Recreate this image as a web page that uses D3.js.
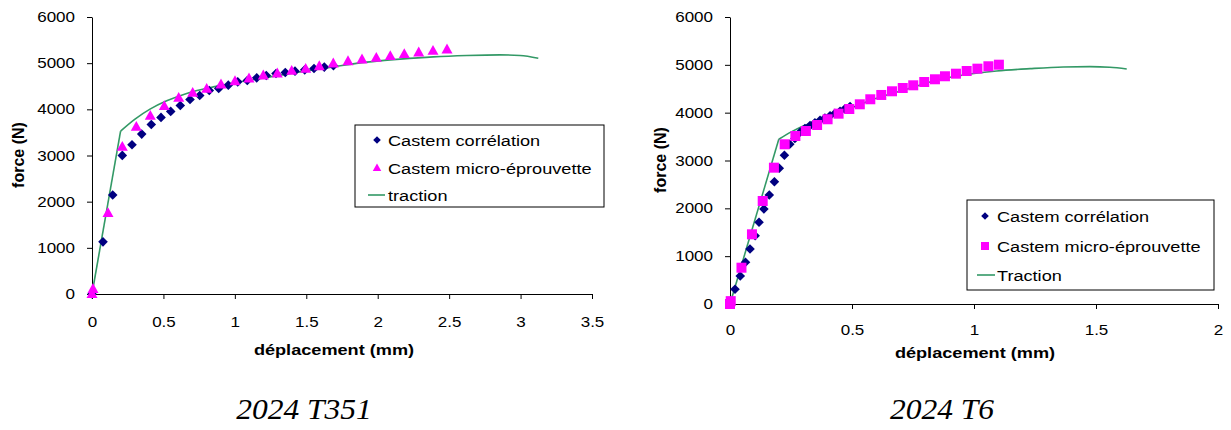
<!DOCTYPE html>
<html><head><meta charset="utf-8">
<script src="https://cdn.jsdelivr.net/npm/d3@7"></script>
<style>
body{margin:0;background:#fff;}
</style></head><body>
<svg id="c" width="1231" height="430"></svg>
<script>
// ---------- DATA ----------
const yTicks = [0,1000,2000,3000,4000,5000,6000];
const xTicksT351 = [0,0.5,1,1.5,2,2.5,3,3.5];
const xTicksT6 = [0,0.5,1,1.5,2];

const seriesNames = ["Castem corrélation","Castem micro-éprouvette"];
const lineNameT351 = "traction";
const lineNameT6 = "Traction";
const titles = ["2024 T351","2024 T6"];
const xLabel = "déplacement (mm)";
const yLabel = "force (N)";

// 2024 T351
const t351CorrX = [0,0.077,0.145,0.212,0.28,0.348,0.415,0.483,0.551,0.618,0.686,0.754,0.821,0.887,0.954,1.02,1.087,1.153,1.22,1.288,1.353,1.421,1.489,1.554,1.626,1.69];
const t351CorrF = [0,1130,2143,3002,3232,3463,3673,3825,3955,4084,4214,4301,4409,4452,4524,4595,4625,4682,4734,4777,4799,4827,4855,4885,4915,4945];
const t351MicroX = [0,0.007,0.112,0.212,0.31,0.408,0.506,0.607,0.705,0.803,0.903,1.001,1.099,1.199,1.297,1.398,1.496,1.591,1.689,1.792,1.89,1.99,2.088,2.186,2.287,2.387,2.485];
const t351MicroF = [0,108,1753,3188,3621,3859,4069,4249,4357,4444,4539,4610,4669,4734,4777,4833,4877,4935,4994,5043,5080,5115,5152,5195,5232,5266,5296];
const t351TracX = [0,0.2,0.301,0.406,0.523,0.663,0.849,1.036,1.223,1.456,1.689,1.923,2.156,2.389,2.623,2.856,2.996,3.124];
const t351TracF = [0,3528,3788,4004,4184,4344,4487,4595,4690,4812,4920,5022,5087,5137,5166,5180,5166,5108];

// 2024 T6
const t6CorrX = [0,0.0205,0.042,0.0635,0.082,0.103,0.119,0.139,0.161,0.182,0.202,0.223,0.245,0.266,0.287,0.307,0.328,0.348,0.369,0.389,0.41,0.43,0.451,0.471,0.492];
const t6CorrF = [0,307,585,872,1150,1428,1708,1986,2279,2557,2837,3109,3339,3460,3590,3670,3730,3790,3840,3890,3935,3985,4030,4080,4130];
const t6MicroX = [0,0.003,0.047,0.09,0.134,0.18,0.224,0.268,0.311,0.357,0.4,0.445,0.489,0.532,0.575,0.62,0.664,0.708,0.751,0.796,0.84,0.881,0.926,0.97,1.014,1.059,1.102];
const t6MicroF = [0,60,759,1457,2153,2850,3339,3512,3617,3742,3862,3979,4077,4175,4280,4370,4447,4516,4572,4641,4698,4761,4815,4871,4920,4970,5003];
const t6TracX = [0,0.2,0.253,0.3,0.382,0.478,0.587,0.724,0.861,0.956,1.093,1.23,1.366,1.475,1.557,1.626];
const t6TracF = [0,3443,3603,3721,3882,4056,4280,4489,4698,4788,4871,4920,4955,4962,4949,4913];

// ---------- DRAW ----------
const NAVY="#000080", MAG="#FF00FF", GREEN="#339966";
const SANS="Liberation Sans, Arial, sans-serif";
const SERIF="Liberation Serif, Times New Roman, serif";
const svg = d3.select("#c");
const zip=(a,b)=>a.map((v,i)=>[v,b[i]]);

function diamond(r){return `M0,${-r}L${r},0L0,${r}L${-r},0Z`;}
function triangle(w){const h=w*0.9;return `M0,${-h*0.6}L${w/2},${h*0.4}L${-w/2},${h*0.4}Z`;}
function square(s){return `M${-s/2},${-s/2}h${s}v${s}h${-s}Z`;}

function chart(cfg){
  const g = svg.append("g");
  const x = d3.scaleLinear().domain(cfg.xDom).range(cfg.xRange);
  const y = d3.scaleLinear().domain([0,6000]).range(cfg.yRange);

  const ya = g.append("g").attr("transform",`translate(${cfg.xRange[0]},0)`)
    .call(d3.axisLeft(y).tickValues(yTicks).tickSize(5).tickSizeOuter(0).tickPadding(12).tickFormat(d3.format("d")));
  const xa = g.append("g").attr("transform",`translate(0,${cfg.yRange[0]})`)
    .call(d3.axisBottom(x).tickValues(cfg.xTicks).tickSize(5).tickSizeOuter(0).tickPadding(cfg.xPad).tickFormat(d=>String(d)));
  [ya,xa].forEach(a=>{a.select(".domain").attr("stroke","#000");a.selectAll("line").attr("stroke","#000");
    a.selectAll("text").style("font-size","14.5px").style("font-family",SANS).attr("fill","#000").classed("sx",true);});

  // line: straight elastic segment, smooth plastic part
  const pts = zip(cfg.tracX,cfg.tracF);
  const lin = d3.line().x(d=>x(d[0])).y(d=>y(d[1]));
  g.append("path").datum(pts.slice(0,2)).attr("fill","none").attr("stroke",GREEN).attr("stroke-width",1.6).attr("d",lin);
  g.append("path").datum(pts.slice(1)).attr("fill","none").attr("stroke",GREEN).attr("stroke-width",1.6)
    .attr("d",lin.curve(d3.curveMonotoneX));

  // diamonds
  g.append("g").selectAll("path").data(zip(cfg.corrX,cfg.corrF)).join("path")
    .attr("d",diamond(4.8)).attr("fill",NAVY)
    .attr("transform",d=>`translate(${x(d[0])},${y(d[1])})`);
  // micro
  g.append("g").selectAll("path").data(zip(cfg.microX,cfg.microF)).join("path")
    .attr("d",cfg.microShape==="tri"?triangle(11):square(10)).attr("fill",MAG)
    .attr("transform",d=>`translate(${x(d[0])},${y(d[1])})`);

  // axis titles
  g.append("text").attr("class","sx").attr("x",cfg.xTitle[0]).attr("y",cfg.xTitle[1])
    .attr("text-anchor","middle").style("font-family",SANS).style("font-weight","bold").style("font-size","15.5px").text(xLabel);
  g.append("text").attr("transform",`translate(${cfg.yTitle[0]},${cfg.yTitle[1]}) rotate(-90)`)
    .attr("text-anchor","middle").attr("dy","0.35em").style("font-family",SANS).style("font-weight","bold").style("font-size","16px").text(yLabel);

  // legend
  const L=cfg.leg;
  g.append("rect").attr("x",L.x).attr("y",L.y).attr("width",L.w).attr("height",L.h)
    .attr("fill","#fff").attr("stroke","#000").attr("stroke-width",1);
  const names=[seriesNames[0],seriesNames[1],cfg.lineName];
  names.forEach((n,i)=>{
    const cy=L.rows[i];
    if(i===0) g.append("path").attr("d",diamond(3.8)).attr("fill",NAVY).attr("transform",`translate(${L.mx},${cy})`);
    if(i===1) g.append("path").attr("d",cfg.microShape==="tri"?triangle(8.5):square(8)).attr("fill",MAG).attr("transform",`translate(${L.mx},${cy})`);
    if(i===2) g.append("line").attr("x1",L.lx[0]).attr("x2",L.lx[1]).attr("y1",cy).attr("y2",cy).attr("stroke",GREEN).attr("stroke-width",1.6);
    g.append("text").attr("class","sx").attr("x",L.tx).attr("y",cy).attr("dy","0.36em")
      .style("font-family",SANS).style("font-size","15.5px").text(n);
  });

  // title
  g.append("text").attr("class","sx2").attr("x",cfg.title[0]).attr("y",cfg.title[1]).attr("text-anchor","middle")
    .style("font-family",SERIF).style("font-style","italic").style("font-size","30px").text(cfg.titleText);
}

chart({xDom:[0,3.5],xRange:[92,592],yRange:[294,17],xTicks:xTicksT351,xPad:18,
  corrX:t351CorrX,corrF:t351CorrF,microX:t351MicroX,microF:t351MicroF,tracX:t351TracX,tracF:t351TracF,
  microShape:"tri",lineName:lineNameT351,
  xTitle:[334,355],yTitle:[18,155],
  leg:{x:355,y:125,w:249,h:82,rows:[140,168,195],mx:377,tx:388,lx:[368,385]},
  title:[304,419],titleText:titles[0]});

chart({xDom:[0,2],xRange:[730,1218],yRange:[304,17],xTicks:xTicksT6,xPad:16,
  corrX:t6CorrX,corrF:t6CorrF,microX:t6MicroX,microF:t6MicroF,tracX:t6TracX,tracF:t6TracF,
  microShape:"sq",lineName:lineNameT6,
  xTitle:[975,358],yTitle:[660,160],
  leg:{x:967,y:200,w:247,h:90,rows:[216,246,275],mx:985,tx:997,lx:[977,995]},
  title:[942,419],titleText:titles[1]});

// horizontal stretch of glyphs to match the reference's wide text
svg.selectAll("text.sx").each(function(){
  const L=this.getComputedTextLength();
  this.setAttribute("textLength",(L*1.17).toFixed(1));
  this.setAttribute("lengthAdjust","spacingAndGlyphs");
});
svg.selectAll("text.sx2").each(function(){
  const L=this.getComputedTextLength();
  this.setAttribute("textLength",(L*1.05).toFixed(1));
  this.setAttribute("lengthAdjust","spacingAndGlyphs");
});
</script></body></html>
